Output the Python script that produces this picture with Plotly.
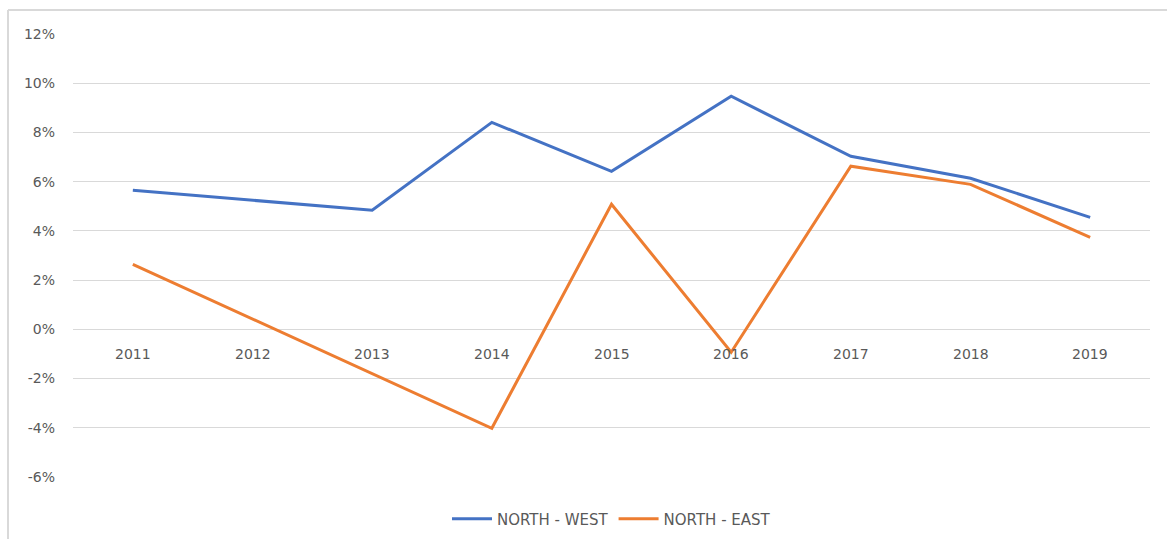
import plotly.graph_objects as go

years = ["2011", "2012", "2013", "2014", "2015", "2016", "2017", "2018", "2019"]
north_west = [5.65, 5.25, 4.84, 8.41, 6.42, 9.47, 7.03, 6.14, 4.55]
north_east = [2.64, 0.43, -1.80, -4.02, 5.08, -0.93, 6.63, 5.89, 3.74]
y_ticks = [-6, -4, -2, 0, 2, 4, 6, 8, 10, 12]

W, H = 1167, 539
L, R, T, B = 73, 1150, 34, 477
FONT = "DejaVu Sans"
GRAY = "#595959"

fig = go.Figure()
fig.add_trace(go.Scatter(x=years, y=[v / 100 for v in north_west], mode="lines",
                         name="NORTH - WEST", line=dict(color="#4472C4", width=3)))
fig.add_trace(go.Scatter(x=years, y=[v / 100 for v in north_east], mode="lines",
                         name="NORTH - EAST", line=dict(color="#ED7D31", width=3)))

for i, yr in enumerate(years):
    fig.add_annotation(x=i, y=0, xref="x", yref="y", text=yr, showarrow=False,
                       yshift=-25, font=dict(family=FONT, size=14, color=GRAY))

pw, ph = R - L, B - T
def px(x):
    return (x - L) / pw
def py(y):
    return (B - y) / ph

fig.add_shape(type="line", xref="paper", yref="paper", x0=px(8), x1=px(1167), y0=py(10), y1=py(10),
              line=dict(color="#D9D9D9", width=2))
fig.add_shape(type="line", xref="paper", yref="paper", x0=px(8), x1=px(8), y0=py(10), y1=py(539),
              line=dict(color="#D9D9D9", width=2))

fig.update_layout(
    width=W, height=H,
    margin=dict(l=L, r=W - R, t=T, b=H - B, autoexpand=False),
    paper_bgcolor="white", plot_bgcolor="white",
    font=dict(family=FONT, size=14, color=GRAY),
    showlegend=True,
    legend=dict(orientation="h", x=0.5, xanchor="center", y=py(519), yanchor="middle",
                font=dict(family=FONT, size=15, color=GRAY), tracegroupgap=0,
                itemwidth=40),
    xaxis=dict(type="category", range=[-0.5, 8.5], showticklabels=False, showgrid=False,
               zeroline=False, showline=False, ticks=""),
    yaxis=dict(range=[-0.06, 0.12], tickvals=[v / 100 for v in y_ticks],
               ticktext=[f"{v}%" for v in y_ticks], showgrid=True, gridcolor="#D9D9D9",
               gridwidth=1, zeroline=False, showline=False, ticks="", ticklabelstandoff=17,
               tickfont=dict(family=FONT, size=14, color=GRAY)),
)

fig.write_html("out.html")
